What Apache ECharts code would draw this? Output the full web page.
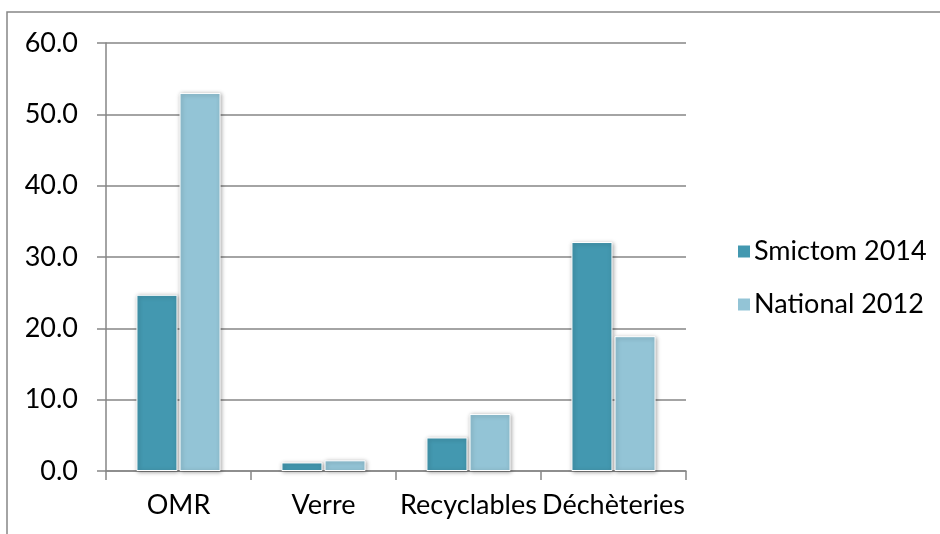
<!DOCTYPE html>
<html><head><meta charset="utf-8">
<script src="https://cdn.jsdelivr.net/npm/echarts@6/dist/echarts.min.js"></script>
<style>html,body{margin:0;padding:0;background:#fff}#c{width:940px;height:534px}</style>
</head><body><div id="c"></div>
<script>
const categories = ['OMR', 'Verre', 'Recyclables', 'Déchèteries'];
const seriesNames = ['Smictom 2014', 'National 2012'];
const smictom2014 = [24.7, 1.2, 4.7, 32.1];
const national2012 = [53.0, 1.5, 8.0, 18.9];
const yTicks = {min: 0, max: 60, interval: 10};

const FONT = 'Lato';
const FS = 27;
const chart = echarts.init(document.getElementById('c'), null, {renderer: 'canvas'});
const barStyle = (color) => ({
  color: color,
  borderColor: '#ffffff',
  borderWidth: 1,
  shadowColor: 'rgba(0,0,0,0.35)',
  shadowBlur: 4,
  shadowOffsetX: 1,
  shadowOffsetY: 1
});
chart.setOption({
  backgroundColor: '#ffffff',
  animation: false,
  textStyle: {fontFamily: FONT},
  graphic: [{
    type: 'rect', silent: true, z: -1,
    shape: {x: 7, y: 12, width: 1000, height: 600},
    style: {fill: 'none', stroke: '#868686', lineWidth: 1.5}
  }],
  grid: {left: 106, right: 254, top: 43, bottom: 63},
  legend: {
    orient: 'vertical', left: 731, top: 233,
    itemWidth: 14, itemHeight: 14, itemGap: 26,
    icon: 'rect',
    textStyle: {fontFamily: FONT, fontSize: FS, color: '#000', padding: [0, 0, 0, -2]},
    data: seriesNames
  },
  xAxis: {
    type: 'category', data: categories,
    axisLine: {lineStyle: {color: '#868686', width: 1.5}},
    axisTick: {show: true, length: 9, lineStyle: {color: '#868686', width: 1.5}},
    axisLabel: {interval: 0, fontFamily: FONT, fontSize: FS, color: '#000', margin: 21}
  },
  yAxis: {
    type: 'value', min: yTicks.min, max: yTicks.max, interval: yTicks.interval,
    axisLine: {show: true, lineStyle: {color: '#868686', width: 1.5}},
    axisTick: {show: true, length: 9, lineStyle: {color: '#868686', width: 1.5}},
    axisLabel: {fontFamily: FONT, fontSize: FS, color: '#000', margin: 28,
      formatter: v => v.toFixed(1)},
    splitLine: {lineStyle: {color: '#868686', width: 1.5}}
  },
  series: [
    {name: seriesNames[0], type: 'bar', data: smictom2014, barCategoryGap: '42%', barGap: '5%',
     itemStyle: barStyle('#4398B0')},
    {name: seriesNames[1], type: 'bar', data: national2012, barCategoryGap: '42%', barGap: '5%',
     itemStyle: barStyle('#93C4D6')}
  ]
});
</script></body></html>
